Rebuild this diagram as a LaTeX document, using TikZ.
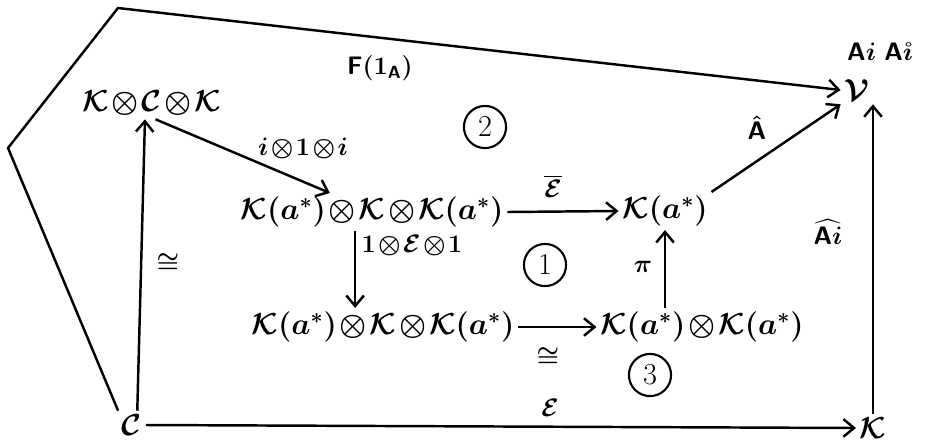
\documentclass[tikz,border=0pt]{standalone}
\usepackage{amsmath,amssymb}
\usetikzlibrary{arrows.meta,calc}
\newcommand{\tot}{\mskip1.5mu{\otimes}\mskip1.5mu}
\begin{document}
\begin{tikzpicture}[x=0.02cm,y=-0.02cm,
  obj/.style={inner sep=2pt,font=\LARGE\boldmath},
  lab/.style={inner sep=1pt,font=\Large\boldmath},
  arr/.style={line width=1.4pt,-{Straight Barb[length=6pt,width=10pt,line width=1.4pt]}},
  numc/.style={draw,circle,line width=1.2pt,minimum size=24pt,inner sep=0pt,font=\LARGE}]
\useasboundingbox (0,0) rectangle (930,444);
% objects
\node[obj] (KCK) at (152,103) {$\mathcal{K}\tot\mathcal{C}\tot\mathcal{K}$};
\node[obj] (T) at (372,212) {$\mathcal{K}(a^*)\tot\mathcal{K}\tot\mathcal{K}(a^*)$};
\node[obj] (Ka) at (665,211) {$\mathcal{K}(a^*)$};
\node[obj] (V) at (857,90) {$\mathcal{V}$};
\node[lab] (Vlab) at (880,52) {$\mathsf{A}i\ \mathsf{A}\mathring{\imath}$};
\node[obj] (B) at (383,327) {$\mathcal{K}(a^*)\tot\mathcal{K}\tot\mathcal{K}(a^*)$};
\node[obj] (BR) at (702,327) {$\mathcal{K}(a^*)\tot\mathcal{K}(a^*)$};
\node[obj] (C) at (132,425) {$\mathcal{C}$};
\node[obj] (K) at (873,428) {$\mathcal{K}$};
% labels
\node[lab] (l1) at (168,263) {$\cong$};
\node[lab] (l2) at (303,148) {$i\tot 1\tot i$};
\node[lab] (l3) at (553,186) {$\overline{\mathcal{E}}$};
\node[lab] (l4) at (412,245) {$1\tot\mathcal{E}\tot 1$};
\node[lab] (l5) at (548,357) {$\cong$};
\node[lab] (l6) at (643,267) {$\pi$};
\node[lab] (l7) at (757,128) {$\hat{\mathsf{A}}$};
\node[lab] (l8) at (828,232) {$\widehat{\mathsf{A}i}$};
\node[lab] (l9) at (550,408) {$\mathcal{E}$};
\node[lab] (l10) at (380,68) {$\mathsf{F}(1_{\mathsf{A}})$};
% arrows
\draw[arr] ([xshift=3pt]C.north) -- ([xshift=-4pt]KCK.south);
\draw[arr] ([xshift=2pt]KCK.south) -- ([xshift=-24pt]T.north);
\draw[arr] (T.east) -- (Ka.west);
\draw[arr] ([xshift=-9.6pt]T.south) -- ([xshift=-9.6pt]T.south |- B.north);
\draw[arr] (B.east) -- (BR.west);
\draw[arr] (BR.north -| Ka.south) -- (Ka.south);
\draw[arr] (Ka.north east) -- (V.south west);
\draw[arr] (K.north) -- (K.north |- V.south);
\draw[arr] (C.east) -- (K.west);
\coordinate (p1) at (8,148);
\coordinate (p2) at (118,8);
\draw[arr] (C.north west) -- (p1) -- (p2) -- (V.west);
% region numbers
\node[numc] (n2) at (485,127) {$2$};
\node[numc] (n1) at (545,265) {$1$};
\node[numc] (n3) at (650,375) {$3$};
\end{tikzpicture}
\end{document}
